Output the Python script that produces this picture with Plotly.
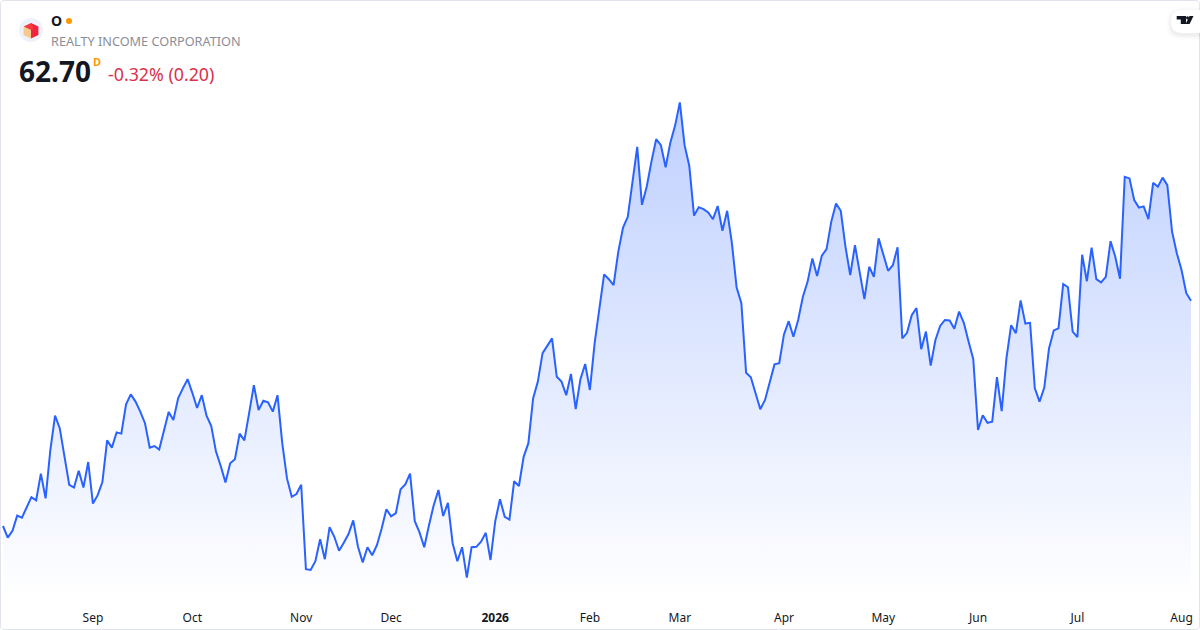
import plotly.graph_objects as go

prices = [
 57.07,56.78,56.95,57.33,57.28,57.55,57.79,57.71,58.38,57.76,58.97,59.83,59.51,58.80,58.10,58.03,58.45,58.03,58.67,57.63,
 57.84,58.17,59.21,59.03,59.41,59.38,60.11,60.36,60.18,59.93,59.64,59.03,59.07,58.98,59.47,59.92,59.72,60.26,60.51,60.74,
 60.40,60.02,60.34,59.83,59.57,58.93,58.57,58.16,58.64,58.74,59.38,59.21,59.89,60.59,59.97,60.20,60.16,59.93,60.34,59.14,
 58.26,57.80,57.87,58.10,55.99,55.97,56.19,56.74,56.24,57.04,56.80,56.45,56.65,56.87,57.21,56.55,56.16,56.54,56.34,56.59,
 57.01,57.49,57.31,57.39,57.99,58.11,58.38,57.19,56.91,56.54,57.09,57.59,57.97,57.32,57.65,56.64,56.19,56.54,55.78,56.54,
 56.55,56.68,56.90,56.22,57.19,57.74,57.30,57.23,58.19,58.07,58.80,59.14,60.26,60.68,61.39,61.59,61.76,60.80,60.68,60.34,
 60.87,59.99,60.74,61.12,60.47,61.64,62.55,63.36,63.24,63.09,63.93,64.53,64.80,65.72,66.55,65.10,65.55,66.18,66.74,66.59,
 66.04,66.66,67.08,67.66,66.59,66.07,64.83,65.04,64.99,64.91,64.74,65.07,64.45,64.95,64.14,63.03,62.64,60.90,60.79,60.39,
 59.99,60.22,60.64,61.11,61.14,61.86,62.19,61.80,62.22,62.80,63.18,63.76,63.32,63.83,63.99,64.68,65.13,64.95,64.05,63.34,
 64.09,63.39,62.74,63.55,63.30,64.26,63.84,63.45,63.59,64.04,61.76,61.90,62.34,62.52,61.49,61.93,61.08,61.72,62.07,62.22,
 62.21,62.00,62.43,62.15,61.68,61.24,59.47,59.84,59.65,59.68,60.79,59.94,61.26,62.09,61.89,62.71,62.13,62.15,60.51,60.18,
 60.53,61.51,61.96,62.01,63.12,63.04,61.93,61.79,63.85,63.19,64.03,63.24,63.16,63.30,64.19,63.80,63.25,65.80,65.76,65.22,
 65.03,65.06,64.74,65.65,65.55,65.78,65.59,64.43,63.89,63.47,62.89,62.70,
]
tick_labels = ["Sep", "Oct", "Nov", "Dec", "<b>2026</b>", "Feb", "Mar", "Apr", "May", "Jun", "Jul", "Aug"]
tick_sessions = [19, 40, 63, 82, 104, 124, 143, 165, 186, 206, 227, 249]
symbol = "O"
company = "REALTY INCOME CORPORATION"
last_price = "62.70"
change_text = "-0.32% (0.20)"

W, H, PLOT_H = 1200, 630, 600
sessions = list(range(len(prices)))

def px(x):
    return x / W

def py(y):
    return (PLOT_H - y) / PLOT_H

def path(points):
    return "M" + " L".join(f"{px(a):.5f},{py(b):.5f}" for a, b in points) + " Z"

def rounded(x0, y0, x1, y1, r, left_only=False):
    rr = 0 if left_only else r
    c = lambda a, b: f"{px(a):.5f},{py(b):.5f}"
    return (f"M{c(x0 + r, y0)} L{c(x1 - rr, y0)} Q{c(x1, y0)} {c(x1, y0 + rr)} L{c(x1, y1 - rr)} "
            f"Q{c(x1, y1)} {c(x1 - rr, y1)} L{c(x0 + r, y1)} Q{c(x0, y1)} {c(x0, y1 - r)} "
            f"L{c(x0, y0 + r)} Q{c(x0, y0)} {c(x0 + r, y0)} Z")

shapes = []
# card border
shapes.append(dict(type="path", path=rounded(0.5, 0.5, 1199.5, 629.5, 4), line=dict(color="#E0E3EB", width=1), fillcolor="rgba(0,0,0,0)"))
# logo
shapes.append(dict(type="circle", x0=px(19), x1=px(43), y0=py(42), y1=py(18), fillcolor="#EEF1F9", line_width=0))
shapes.append(dict(type="path", path=path([(31, 23), (38.4, 26.5), (38.4, 35), (31, 38.5)]), fillcolor="#F0243E", line_width=0))
shapes.append(dict(type="path", path=path([(23.6, 26.5), (31, 30), (31, 38.5), (23.6, 35)]), fillcolor="#F8C98E", line_width=0))
shapes.append(dict(type="path", path=path([(31, 23), (23.6, 26.5), (31, 30), (33.5, 28.5)]), fillcolor="#F23A3F", line_width=0))
# status dot
shapes.append(dict(type="circle", x0=px(66), x1=px(72), y0=py(24), y1=py(18), fillcolor="#FF9800", line_width=0))
# badge shadow and pill
for grow, alpha in [(5, 0.006), (4, 0.009), (3, 0.013), (2, 0.017), (1, 0.02)]:
    shapes.append(dict(type="path", path=rounded(1171 - grow, 10 - grow + 2, 1200, 33 + grow + 2, 11 + grow, True),
                       fillcolor=f"rgba(19,23,34,{alpha})", line_width=0))
shapes.append(dict(type="path", path=rounded(1171, 10, 1200, 33, 11, True), fillcolor="#FFFFFF", line_width=0))
# badge glyph
shapes.append(dict(type="path", path=path([(1176.7, 16), (1186, 16), (1186, 24), (1180.8, 24), (1180.8, 19.6), (1176.7, 19.6)]), fillcolor="#131722", line_width=0))
shapes.append(dict(type="circle", x0=px(1186), x1=px(1189), y0=py(19.4), y1=py(16.2), fillcolor="#131722", line_width=0))
shapes.append(dict(type="path", path=path([(1189.5, 16), (1193.5, 16), (1189.6, 24), (1185.6, 24)]), fillcolor="#131722", line_width=0))
for s in shapes:
    s.update(xref="paper", yref="paper", layer="above")

def label(x, y, text, size, color, bold=False, family="Noto Sans"):
    return dict(xref="paper", yref="paper", x=px(x), y=py(y), xanchor="left", yanchor="middle", showarrow=False,
                text=f"<b>{text}</b>" if bold else text, font=dict(size=size, color=color, family=family),
                borderpad=0, borderwidth=0)

annotations = [
    label(51, 20.5, symbol, 14, "#131722", True),
    label(51, 40.5, company, 12.7, "#8B8E97"),
    label(19, 70.5, last_price, 28, "#131722", True),
    label(93, 61, "D", 11, "#FF9800", True),
    label(108, 74.5, change_text, 17.8, "#D9324A"),
]

fig = go.Figure(go.Scatter(
    x=sessions, y=prices, mode="lines",
    line=dict(color="#2962FF", width=2),
    fill="tozeroy",
    fillgradient=dict(type="vertical", start=55.22, stop=max(prices),
                      colorscale=[[0, "rgba(41,98,255,0)"], [1, "rgba(41,98,255,0.3)"]]),
    hoverinfo="skip",
))
fig.update_layout(
    width=W, height=H, autosize=False,
    margin=dict(l=0, r=0, t=0, b=H - PLOT_H, pad=0),
    paper_bgcolor="#FFFFFF", plot_bgcolor="#FFFFFF",
    showlegend=False, shapes=shapes, annotations=annotations,
    xaxis=dict(range=[-0.634, 252.9], tickmode="array", tickvals=tick_sessions, ticktext=tick_labels,
               showgrid=False, zeroline=False, showline=False, ticks="", ticklabelstandoff=9,
               tickfont=dict(family="Noto Sans", size=12, color="#131722")),
    yaxis=dict(range=[55.22, 70.22], showgrid=False, zeroline=False, showticklabels=False, ticks=""),
)
fig.write_html("out.html", config=dict(displayModeBar=False),
               post_script="document.documentElement.style.overflow='hidden';document.body.style.margin='0';document.body.style.overflow='hidden';")
